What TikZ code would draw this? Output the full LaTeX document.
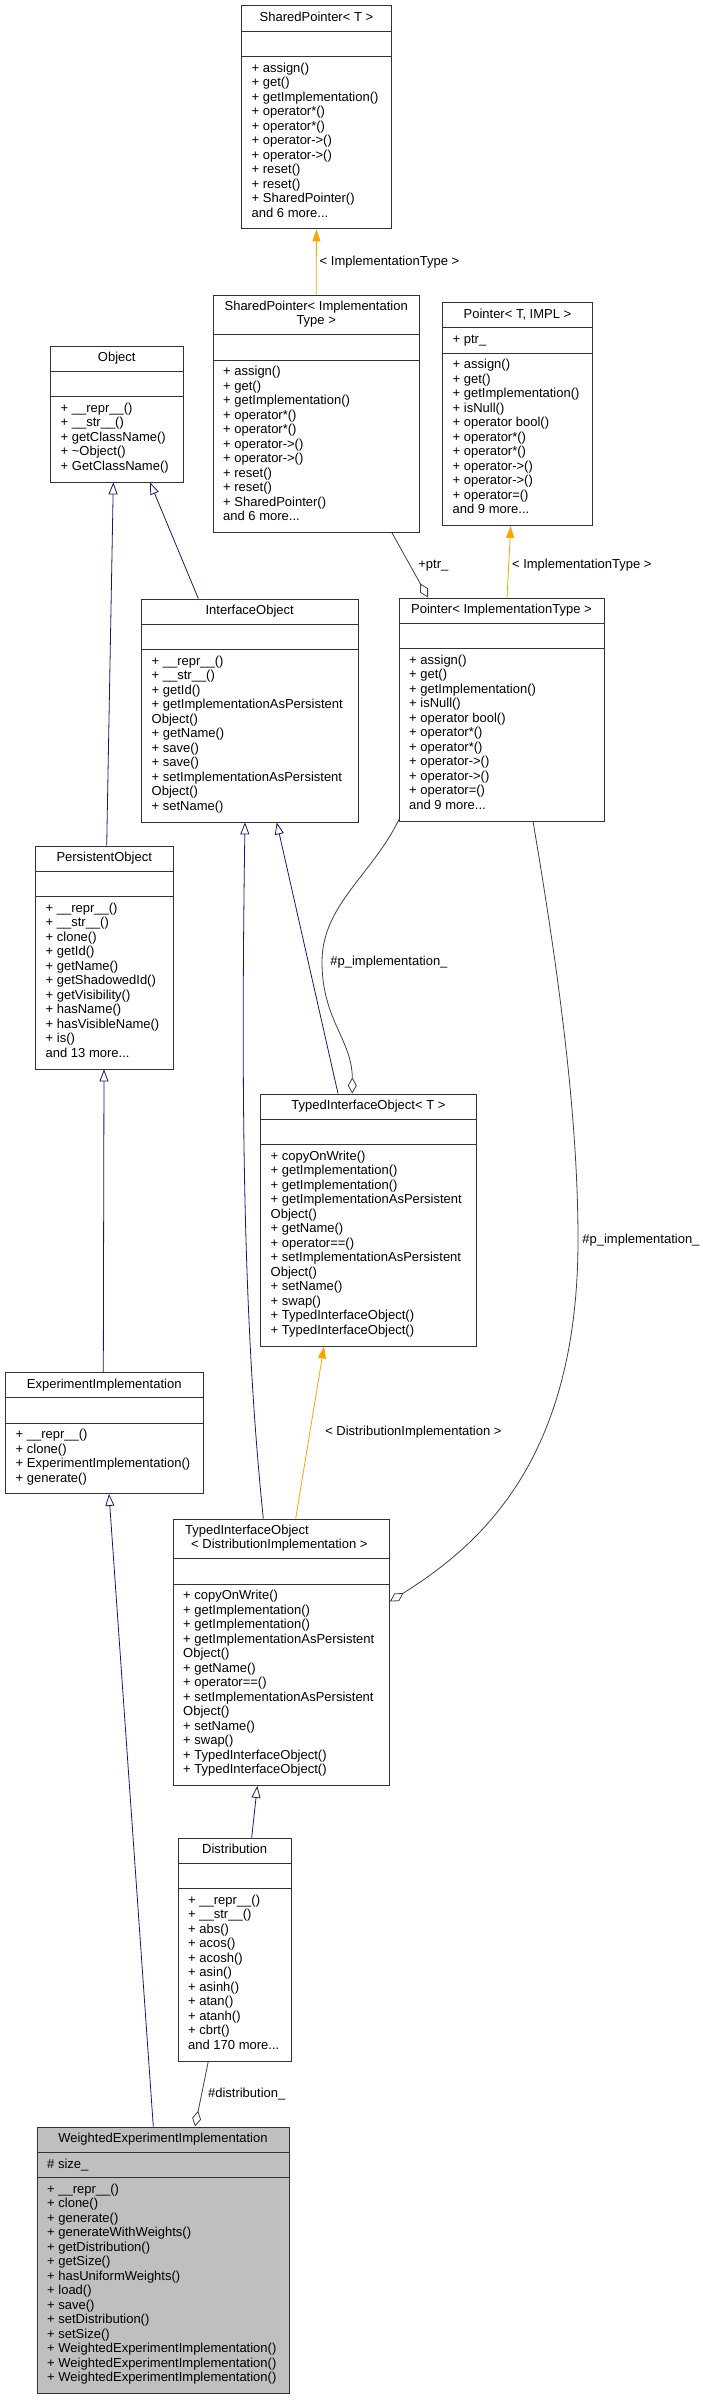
\documentclass[tikz,border=0pt]{standalone}
\usepackage{fontspec}
\setmainfont{Liberation Sans}
\usepackage{tikz}
\usetikzlibrary{arrows.meta, positioning, calc}
\definecolor{edgeblue}{HTML}{191970}
\definecolor{edgeorange}{HTML}{FFA500}
\definecolor{edgegrey}{HTML}{404040}
\definecolor{focusgrey}{HTML}{BFBFBF}
\newcommand{\dgfont}{\fontsize{13}{14.5}\selectfont}

\begin{document}
\begin{tikzpicture}[
    x=1pt, y=-1pt,
    classbox/.style={rectangle, draw=black!80, line width=0.9pt, fill=white, inner sep=0pt, anchor=north west},
    header/.style={font=\dgfont, anchor=north, align=center, inner sep=0pt, execute at begin node=\rule{0pt}{10pt}},
    members/.style={font=\dgfont, anchor=north west, align=left, inner sep=0pt, execute at begin node=\rule{0pt}{10pt}},
    divider/.style={draw=black!80, line width=0.9pt},
    inherit/.style={-{Triangle[open, length=12pt, width=9pt]}, edgeblue, line width=0.8pt},
    template/.style={-{Triangle[length=12pt, width=8pt]}, edgeorange, line width=0.8pt},
    usage/.style={-{Diamond[open, length=16pt, width=9pt]}, edgegrey, line width=0.8pt},
    edgelabel/.style={font=\dgfont, inner sep=0pt, anchor=west, text=black}
]
\useasboundingbox (0,0) rectangle (703,2400);

% SharedPointer< T >
\node[classbox, minimum width=150pt, minimum height=223pt] (spT) at (241,5.5) {};
\node[header] at ($(spT.north)+(0,6)$) {SharedPointer< T >};
\node[members] at ($(spT.north west)+(10.5,57)$) {+ assign()\\+ get()\\+ getImplementation()\\+ operator*()\\+ operator*()\\+ operator->()\\+ operator->()\\+ reset()\\+ reset()\\+ SharedPointer()\\and 6 more...};

% SharedPointer< ImplementationType >
\node[classbox, minimum width=206.5pt, minimum height=237.5pt] (spImpl) at (212.5,294.5) {};
\node[header] at ($(spImpl.north)+(0,6)$) {SharedPointer< Implementation\\Type >};
\node[members] at ($(spImpl.north west)+(10.5,71.5)$) {+ assign()\\+ get()\\+ getImplementation()\\+ operator*()\\+ operator*()\\+ operator->()\\+ operator->()\\+ reset()\\+ reset()\\+ SharedPointer()\\and 6 more...};

% Pointer< T, IMPL >
\node[classbox, minimum width=150pt, minimum height=223pt] (ptrTI) at (442,302) {};
\node[header] at ($(ptrTI.north)+(0,6)$) {Pointer< T, IMPL >};
\node[members] at ($(ptrTI.north west)+(10.5,31.5)$) {+ ptr\_};
\node[members] at ($(ptrTI.north west)+(10.5,57)$) {+ assign()\\+ get()\\+ getImplementation()\\+ isNull()\\+ operator bool()\\+ operator*()\\+ operator*()\\+ operator->()\\+ operator->()\\+ operator=()\\and 9 more...};

% Pointer< ImplementationType >
\node[classbox, minimum width=205pt, minimum height=223pt] (ptrImpl) at (398.5,597.5) {};
\node[header] at ($(ptrImpl.north)+(0,6)$) {Pointer< ImplementationType >};
\node[members] at ($(ptrImpl.north west)+(10.5,57)$) {+ assign()\\+ get()\\+ getImplementation()\\+ isNull()\\+ operator bool()\\+ operator*()\\+ operator*()\\+ operator->()\\+ operator->()\\+ operator=()\\and 9 more...};

% Object
\node[classbox, minimum width=132.5pt, minimum height=136pt] (obj) at (50,345.5) {};
\node[header] at ($(obj.north)+(0,6)$) {Object};
\node[members] at ($(obj.north west)+(10.5,57)$) {+ \_\_repr\_\_()\\+ \_\_str\_\_()\\+ getClassName()\\+ \textasciitilde Object()\\+ GetClassName()};

% InterfaceObject
\node[classbox, minimum width=216.5pt, minimum height=223pt] (iobj) at (141,598.5) {};
\node[header] at ($(iobj.north)+(0,6)$) {InterfaceObject};
\node[members] at ($(iobj.north west)+(10.5,57)$) {+ \_\_repr\_\_()\\+ \_\_str\_\_()\\+ getId()\\+ getImplementationAsPersistent\\Object()\\+ getName()\\+ save()\\+ save()\\+ setImplementationAsPersistent\\Object()\\+ setName()};

% PersistentObject
\node[classbox, minimum width=137.5pt, minimum height=223pt] (pobj) at (35,845.5) {};
\node[header] at ($(pobj.north)+(0,6)$) {PersistentObject};
\node[members] at ($(pobj.north west)+(10.5,57)$) {+ \_\_repr\_\_()\\+ \_\_str\_\_()\\+ clone()\\+ getId()\\+ getName()\\+ getShadowedId()\\+ getVisibility()\\+ hasName()\\+ hasVisibleName()\\+ is()\\and 13 more...};

% TypedInterfaceObject< T >
\node[classbox, minimum width=216pt, minimum height=252pt] (tioT) at (260,1093.5) {};
\node[header] at ($(tioT.north)+(0,6)$) {TypedInterfaceObject< T >};
\node[members] at ($(tioT.north west)+(10.5,57)$) {+ copyOnWrite()\\+ getImplementation()\\+ getImplementation()\\+ getImplementationAsPersistent\\Object()\\+ getName()\\+ operator==()\\+ setImplementationAsPersistent\\Object()\\+ setName()\\+ swap()\\+ TypedInterfaceObject()\\+ TypedInterfaceObject()};

% ExperimentImplementation
\node[classbox, minimum width=197.5pt, minimum height=121pt] (expImpl) at (5,1372) {};
\node[header] at ($(expImpl.north)+(0,6)$) {ExperimentImplementation};
\node[members] at ($(expImpl.north west)+(10.5,57)$) {+ \_\_repr\_\_()\\+ clone()\\+ ExperimentImplementation()\\+ generate()};

% TypedInterfaceObject< DistributionImplementation >
\node[classbox, minimum width=216.5pt, minimum height=266.5pt] (tioD) at (172.5,1518.5) {};
\node[members] at ($(tioD.north west)+(12.5,6)$) {TypedInterfaceObject\\\hspace*{6pt}< DistributionImplementation >};
\node[members] at ($(tioD.north west)+(10.5,71.5)$) {+ copyOnWrite()\\+ getImplementation()\\+ getImplementation()\\+ getImplementationAsPersistent\\Object()\\+ getName()\\+ operator==()\\+ setImplementationAsPersistent\\Object()\\+ setName()\\+ swap()\\+ TypedInterfaceObject()\\+ TypedInterfaceObject()};

% Distribution
\node[classbox, minimum width=113.5pt, minimum height=223pt] (dist) at (177.5,1837.5) {};
\node[header] at ($(dist.north)+(0,6)$) {Distribution};
\node[members] at ($(dist.north west)+(10.5,57)$) {+ \_\_repr\_\_()\\+ \_\_str\_\_()\\+ abs()\\+ acos()\\+ acosh()\\+ asin()\\+ asinh()\\+ atan()\\+ atanh()\\+ cbrt()\\and 170 more...};

% WeightedExperimentImplementation
\node[classbox, fill=focusgrey, minimum width=252pt, minimum height=266.5pt] (wei) at (36.5,2126.5) {};
\node[header] at ($(wei.north)+(0,6)$) {WeightedExperimentImplementation};
\node[members] at ($(wei.north west)+(10.5,31.5)$) {\# size\_};
\node[members] at ($(wei.north west)+(10.5,57)$) {+ \_\_repr\_\_()\\+ clone()\\+ generate()\\+ generateWithWeights()\\+ getDistribution()\\+ getSize()\\+ hasUniformWeights()\\+ load()\\+ save()\\+ setDistribution()\\+ setSize()\\+ WeightedExperimentImplementation()\\+ WeightedExperimentImplementation()\\+ WeightedExperimentImplementation()};

% compartment lines
\foreach \b/\h in {spT/25.5, spImpl/40, ptrTI/25.5, ptrImpl/25.5, obj/25.5, iobj/25.5, pobj/25.5, tioT/25.5, expImpl/25.5, tioD/40, dist/25.5, wei/25.5}
    \draw[divider] ($(\b.north west)+(0,\h)$) -- ($(\b.north east)+(0,\h)$)
                   ($(\b.north west)+(0,\h+25.5)$) -- ($(\b.north east)+(0,\h+25.5)$);

% Inheritance
\draw[inherit] ($(pobj.north west)+(71.7,0)$) -- ($(obj.south west)+(63.3,0)$);
\draw[inherit] ($(iobj.north west)+(57.3,0)$) -- ($(obj.south west)+(100,0)$);
\draw[inherit] ($(tioT.north west)+(78,0)$) -- ($(iobj.south west)+(135.7,0)$);
\draw[inherit] ($(tioD.north west)+(90.8,0)$) .. controls (246,1350) and (240,1150) .. ($(iobj.south west)+(104,0)$);
\draw[inherit] ($(expImpl.north west)+(98.3,0)$) -- ($(pobj.south west)+(69,0)$);
\draw[inherit] ($(wei.north west)+(116.8,0)$) -- ($(expImpl.south west)+(104,0)$);
\draw[inherit] ($(dist.north west)+(74.2,0)$) -- ($(tioD.south west)+(84.8,0)$);

% Template instances
\draw[template] (spImpl.north) -- (spT.south) node[edgelabel, midway, right=3pt] {< ImplementationType >};
\draw[template] ($(ptrImpl.north west)+(108.5,0)$) -- ($(ptrTI.south west)+(68.7,0)$) node[edgelabel, pos=0.45, right=3pt] {< ImplementationType >};
\draw[template] ($(tioD.north west)+(123.2,0)$) -- ($(tioT.south west)+(64,0)$) node[edgelabel, midway, right=15pt] {< DistributionImplementation >};

% Members
\draw[usage] ($(spImpl.south west)+(179.5,0)$) -- ($(ptrImpl.north west)+(29.5,0)$) node[edgelabel, midway, right=8pt] {+ptr\_};
\draw[usage] ($(dist.south west)+(30.8,0)$) -- ($(wei.north west)+(158.5,0)$) node[edgelabel, midway, right=6pt] {\#distribution\_};
\draw[usage] ($(ptrImpl.south west)+(0.5,-2)$) .. controls (372,875) and (322,905) .. (322,962) node[edgelabel, right=8pt] {\#p\_implementation\_}
    .. controls (322,1020) and (352.3,1040) .. ($(tioT.north west)+(92.3,0)$);
\draw[usage] ($(ptrImpl.south west)+(134.5,0)$) .. controls (560,980) and (578,1120) .. (578,1240) node[edgelabel, right=4pt] {\#p\_implementation\_}
    .. controls (578,1460) and (480,1545) .. ($(tioD.north east)+(0,83)$);

\end{tikzpicture}
\end{document}
